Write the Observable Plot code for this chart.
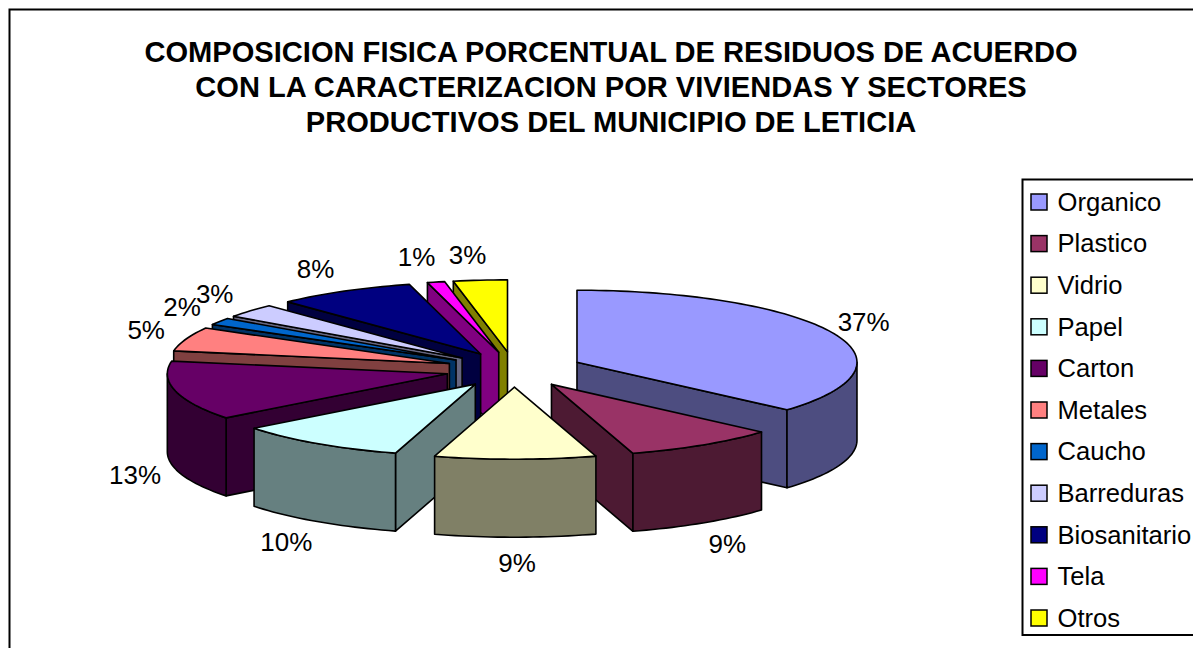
<!DOCTYPE html>
<html><head><meta charset="utf-8">
<style>html,body{margin:0;padding:0;background:#fff;overflow:hidden}svg{display:block}</style>
<script src="https://cdn.jsdelivr.net/npm/d3@7"></script>
<script src="https://cdn.jsdelivr.net/npm/@observablehq/plot@0.6"></script>
</head><body><div id="chart"></div>
<script>
const categories = ["Organico","Plastico","Vidrio","Papel","Carton","Metales","Caucho","Barreduras","Biosanitario","Tela","Otros"];
const values = [36.5,8.8,9.3,9.9,13.3,5.4,1.6,3.1,8.0,1.0,3.1];
const colors = ["#9999FF","#993366","#FFFFCC","#CCFFFF","#660066","#FF8080","#0066CC","#CCCCFF","#000080","#FF00FF","#FFFF00"];
const titleLines = ["COMPOSICION FISICA PORCENTUAL DE RESIDUOS DE ACUERDO","CON LA CARACTERIZACION POR VIVIENDAS Y SECTORES","PRODUCTIVOS DEL MUNICIPIO DE LETICIA"];
const drawOrder = ["Otros","Tela","Biosanitario","Barreduras","Caucho","Metales","Carton","Papel","Organico","Plastico","Vidrio"];

// pie projection
const W = 1193, H = 648, cx = 513.7, cy = 369, rx = 280, ry = 72, depth = 78, explode = 0.246;
const font = "'Liberation Sans', Arial, sans-serif";
const rad = d => d * Math.PI / 180;
const dark = c => { const r = d3.rgb(c); return d3.rgb(r.r/2, r.g/2, r.b/2).formatHex(); };

let acc = 0;
const slices = categories.map((name, i) => {
  const a0 = acc / 100 * 360; acc += values[i]; const a1 = acc / 100 * 360;
  const mid = (a0 + a1) / 2;
  const ax = cx + explode * rx * Math.sin(rad(mid)), ay = cy - explode * ry * Math.cos(rad(mid));
  const at = a => [ax + rx * Math.sin(rad(a)), ay - ry * Math.cos(rad(a))];
  return {name, value: values[i], color: colors[i], a0, a1, mid, ax, ay, at};
});

const polys = [];
const push = (id, fill, pts) => { [...pts, pts[0]].forEach(p => polys.push({id, fill, x: p[0], y: p[1]})); };
const arc = (s, a, b) => { const n = Math.max(2, Math.ceil((b - a) / 1.5)); return d3.range(n + 1).map(i => s.at(a + (b - a) * i / n)); };
for (const name of drawOrder) {
  const s = slices.find(d => d.name === name), side = dark(s.color);
  const down = pts => pts.map(p => [p[0], p[1] + depth]).reverse();
  const face = a => { const p = s.at(a); push(name + "-f" + a, side, [[s.ax, s.ay], p, [p[0], p[1] + depth], [s.ax, s.ay + depth]]); };
  if (Math.sin(rad(s.a0)) < 0) face(s.a0);
  if (Math.sin(rad(s.a1)) > 0) face(s.a1);
  const f0 = Math.max(s.a0, 90), f1 = Math.min(s.a1, 270);
  if (f1 > f0) { const pts = arc(s, f0, f1); push(name + "-o", side, [...pts, ...down(pts)]); }
  push(name + "-t", s.color, [[s.ax, s.ay], ...arc(s, s.a0, s.a1)]);
}

const labels = slices.map(s => {
  const p = s.at(s.mid), sn = Math.sin(rad(s.mid)), c = Math.cos(rad(s.mid));
  const front = s.mid > 90 && s.mid < 270;
  return {text: Math.round(s.value) + "%",
    x: p[0] + (sn > 0 ? 33 : 41) * Math.sign(sn) * Math.sqrt(Math.abs(sn)),
    y: p[1] + (front ? depth : 0) - (c < 0 ? 26 : 25) * c};
});
const legendTop = 202, legendStep = 41.6;
const legend = categories.map((name, i) => ({name, color: colors[i], y: legendTop + i * legendStep}));
const title = titleLines.map((t, i) => ({t, y: 52 + i * 35}));

const chart = Plot.plot({
  width: W, height: H, margin: 0,
  x: {domain: [0, W], range: [0, W], axis: null},
  y: {domain: [0, H], range: [0, H], axis: null},
  color: {type: "identity"},
  style: {background: "#fff", fontFamily: font},
  marks: [
    Plot.rect([{x1: 9.5, x2: W + 20, y1: 9.5, y2: H + 20}], {x1: "x1", x2: "x2", y1: "y1", y2: "y2", fill: "none", stroke: "#000", strokeWidth: 2, clip: true}),
    Plot.line(polys, {x: "x", y: "y", z: "id", fill: "fill", stroke: "#000", strokeWidth: 1.6, strokeLinejoin: "round"}),
    Plot.text(title, {x: () => 610.5, y: "y", text: "t", fontSize: 29.1, fontWeight: "bold", fill: "#000", fontFamily: font}),
    Plot.text(labels, {x: "x", y: "y", text: "text", fontSize: 26, fill: "#000", fontFamily: font}),
    Plot.rect([{x1: 1022.5, x2: W + 20, y1: 179.5, y2: 635}], {x1: "x1", x2: "x2", y1: "y1", y2: "y2", fill: "#fff", stroke: "#000", strokeWidth: 2, clip: true}),
    Plot.rect(legend, {x1: () => 1031, x2: () => 1047, y1: d => d.y - 8, y2: d => d.y + 8, fill: "color", stroke: "#000", strokeWidth: 1.5}),
    Plot.text(legend, {x: () => 1057, y: "y", text: "name", textAnchor: "start", fontSize: 25.6, fill: "#000", fontFamily: font})
  ]
});
document.getElementById("chart").append(chart);
</script></body></html>
